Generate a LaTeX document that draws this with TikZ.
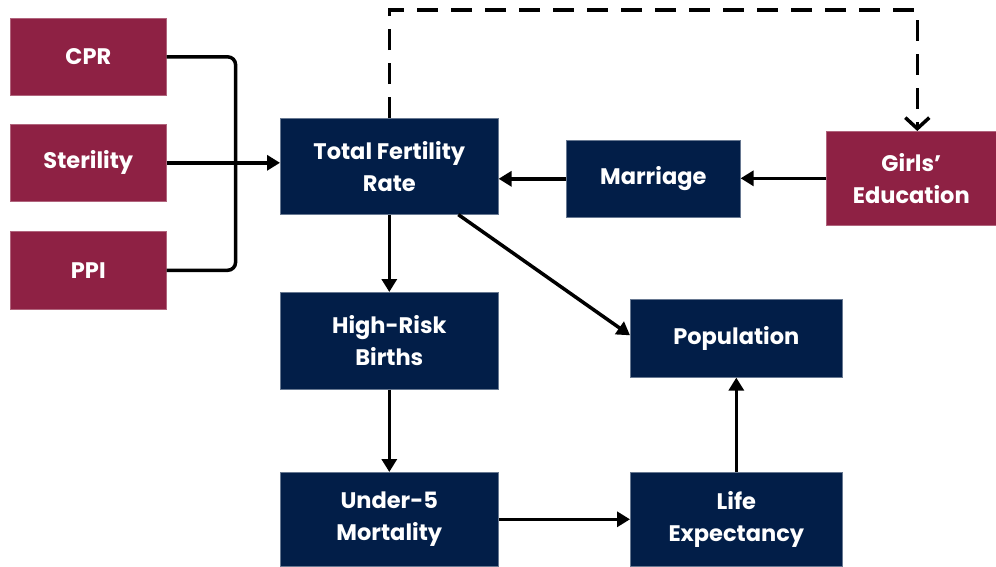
\documentclass[tikz,border=0pt]{standalone}
\usepackage{fontspec}
\setmainfont{Poppins}
\usetikzlibrary{arrows.meta}
\definecolor{maroonbox}{HTML}{8E2144}
\definecolor{navybox}{HTML}{021E48}
\begin{document}
\begin{tikzpicture}[x=1pt,y=-1pt,
  basebox/.style={anchor=north west, inner sep=0pt, align=center, text=white,
    font=\fontsize{22.5}{32}\selectfont\bfseries, line width=0.6pt},
  redbox/.style={basebox, fill=maroonbox, draw=maroonbox!70!white},
  bluebox/.style={basebox, fill=navybox, draw=navybox!60!white},
  conn/.style={line width=3.5pt, draw=black},
  arr/.style={conn, -{Triangle[length=13pt,width=15pt]}},
  dasharr/.style={conn, dash pattern=on 21pt off 13pt, -{Straight Barb[length=11pt,width=24pt,line width=3.5pt]}}
]
\useasboundingbox (0,0) rectangle (996,566);
\node[redbox, minimum width=156pt, minimum height=77pt] (cpr) at (10,18) {CPR};
\node[redbox, minimum width=156pt, minimum height=77pt] (ster) at (10,124) {Sterility};
\node[redbox, minimum width=156pt, minimum height=78pt] (ppi) at (10,231) {PPI};
\node[bluebox, minimum width=218pt, minimum height=96pt] (tfr) at (280,118) {Total Fertility\\Rate};
\node[bluebox, minimum width=174pt, minimum height=77pt] (mar) at (566,140) {Marriage};
\node[redbox, minimum width=170pt, minimum height=94pt] (girls) at (826,131) {Girls’\\Education};
\node[bluebox, minimum width=218pt, minimum height=97pt] (hrb) at (280,292) {High-Risk\\Births};
\node[bluebox, minimum width=212pt, minimum height=78pt] (pop) at (630,299) {Population};
\node[bluebox, minimum width=218pt, minimum height=94pt] (u5) at (280,472) {Under-5\\Mortality};
\node[bluebox, minimum width=212pt, minimum height=94pt] (le) at (630,472) {Life\\Expectancy};

\draw[conn, rounded corners=8pt] (cpr.east) -- ++(69,0) |- (ppi.east);
\draw[arr] (ster.east) -- (ster.east -| tfr.west);
\coordinate (dtop) at (tfr.north |- 0,10);
\draw[dasharr] (tfr.north) -- (dtop) -| ([xshift=6pt]girls.north);
\draw[arr] (mar.west) -- (mar.west -| tfr.east);
\draw[arr] (girls.west) -- (girls.west -| mar.east);
\draw[arr] (tfr.south) -- (hrb.north);
\draw[arr] ([xshift=69pt]tfr.south) -- ([yshift=3pt]pop.west);
\draw[arr] (hrb.south) -- (u5.north);
\draw[arr] (u5.east) -- (le.west);
\draw[arr] (le.north) -- (pop.south);
\end{tikzpicture}
\end{document}
